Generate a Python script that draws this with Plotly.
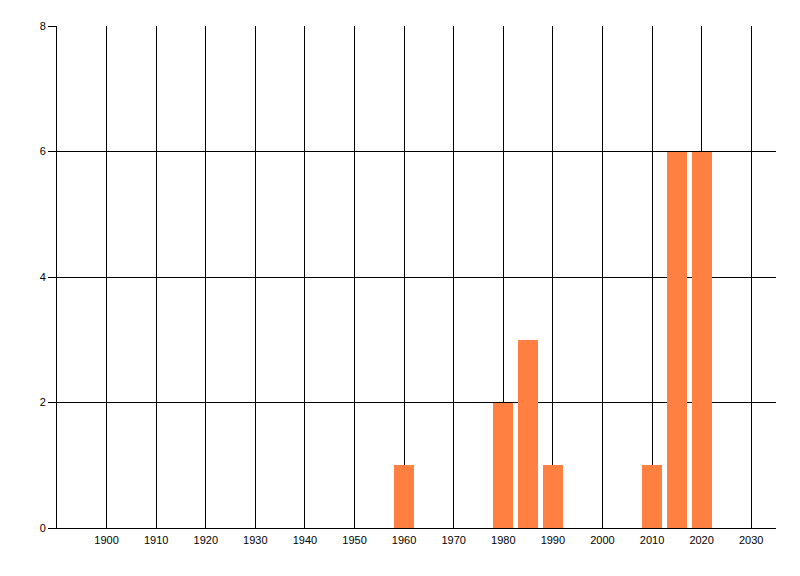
import plotly.graph_objects as go

years = [1960, 1980, 1985, 1990, 2010, 2015, 2020]
counts = [1, 2, 3, 1, 1, 6, 6]
x_ticks = list(range(1900, 2031, 10))
y_ticks = [0, 2, 4, 6, 8]

fig = go.Figure(go.Bar(
    x=years, y=counts, width=4,
    marker=dict(color="#FF8040", line=dict(width=0)),
))

# page body has an 8px default margin, so offsets compensate for it
fig.update_layout(
    width=800, height=576,
    margin=dict(l=49, r=32, t=18, b=56, autoexpand=False),
    paper_bgcolor="white", plot_bgcolor="white",
    font=dict(family="Liberation Sans, Arial, sans-serif", size=11, color="black"),
    showlegend=False,
    bargap=0,
)
fig.update_xaxes(
    range=[1890, 2035], tickmode="array", tickvals=x_ticks,
    ticktext=[str(v) for v in x_ticks],
    showgrid=True, gridcolor="black", gridwidth=1,
    showline=True, linecolor="black", linewidth=1,
    ticks="", zeroline=False, ticklabelstandoff=2, automargin=False,
)
fig.update_yaxes(
    range=[0, 8], tickmode="array", tickvals=y_ticks,
    showgrid=True, gridcolor="black", gridwidth=1,
    showline=True, linecolor="black", linewidth=1,
    ticks="outside", ticklen=8, tickcolor="black", tickwidth=1,
    zeroline=False, automargin=False,
)

fig.write_html("out.html")
